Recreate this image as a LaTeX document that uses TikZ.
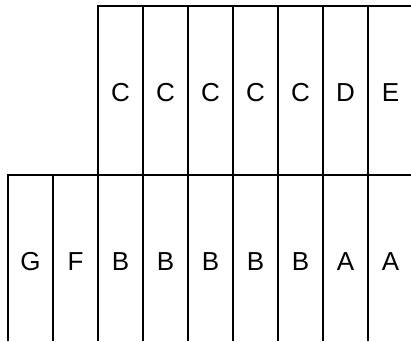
\documentclass[tikz,border=0pt]{standalone}
\usepackage{fontspec}
\setmainfont{Liberation Sans}
\begin{document}
\begin{tikzpicture}[x=1pt,y=-1pt,line width=1.3pt,
  cellletter/.style={font=\fontsize{26}{30}\selectfont,inner sep=0pt,anchor=center}]
\useasboundingbox (0,0) rectangle (411,341);
% outline of the two rows
\draw (98,341) -- (98,6) -- (411,6);
\draw (8,341) -- (8,175) -- (411,175);
% column dividers
\draw (53,175) -- (53,341);
\foreach \x in {143,188,...,368}
  \draw (\x,6) -- (\x,341);
% upper row
\foreach \l [count=\i from 0] in {C,C,C,C,C,D,E}
  \node[cellletter] (top\i) at (120.5+45*\i,92.5) {\l};
% lower row
\foreach \l [count=\i from 0] in {G,F,B,B,B,B,B,A,A}
  \node[cellletter] (bot\i) at (30.5+45*\i,262) {\l};
\end{tikzpicture}
\end{document}
